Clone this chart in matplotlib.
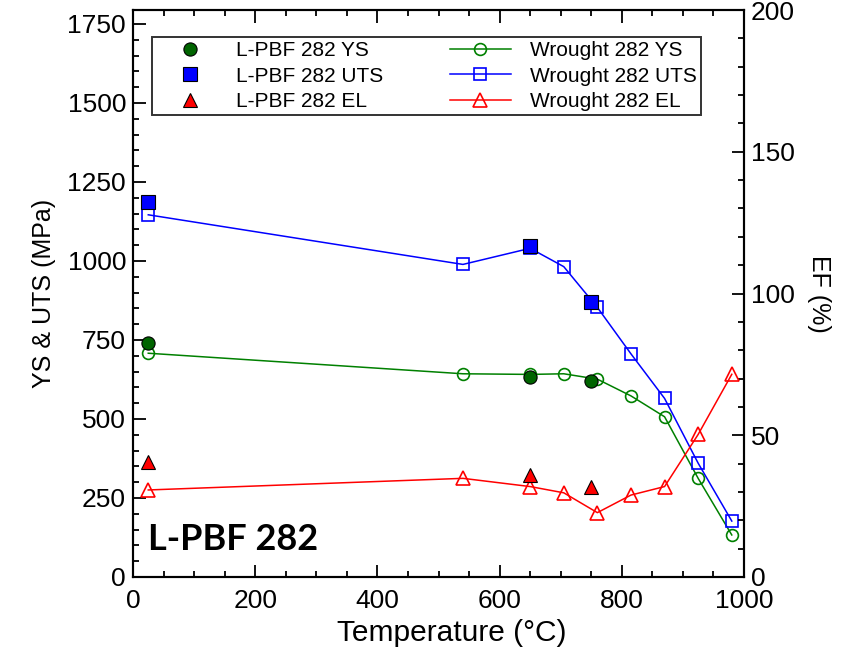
import matplotlib.pyplot as plt
from matplotlib.ticker import MultipleLocator
from matplotlib.legend_handler import HandlerLine2D

plt.rcParams['font.family'] = ['Liberation Sans', 'DejaVu Sans']

# --- datos ---
temp_lpbf = [25, 650, 750]
ys_lpbf = [741, 632, 620]
uts_lpbf = [1188, 1047, 869]
el_lpbf = [40.7, 36.0, 31.9]

temp_wr = [25, 540, 650, 705, 760, 815, 870, 925, 980]
ys_wr = [708, 643, 641, 643, 626, 573, 507, 312, 133]
uts_wr = [1146, 989, 1040, 982, 853, 706, 565, 360, 177]
el_wr = [30.7, 34.8, 31.9, 29.7, 22.7, 28.9, 31.9, 50.3, 71.5]

fig = plt.figure(figsize=(8.43, 6.49), dpi=100)
ax = fig.add_axes([133 / 843, 1 - 577 / 649, 611 / 843, 567 / 649])
ax2 = ax.twinx()

lw = 1.1
ms = 8.5
# Wrought (marcadores abiertos + línea)
l4, = ax.plot(temp_wr, ys_wr, '-o', color='green', lw=lw, ms=ms, mfc='none', mew=1.2, label='Wrought 282 YS')
l5, = ax.plot(temp_wr, uts_wr, '-s', color='blue', lw=lw, ms=ms, mfc='none', mew=1.2, label='Wrought 282 UTS')
l6, = ax2.plot(temp_wr, el_wr, '-^', color='red', lw=lw, ms=ms + 1, mfc='none', mew=1.2, label='Wrought 282 EL')

# L-PBF (solo marcadores rellenos)
l1, = ax.plot(temp_lpbf, ys_lpbf, 'o', color='#006400', mec='black', mew=0.8, ms=ms + 1, label='L-PBF 282 YS')
l2, = ax.plot(temp_lpbf, uts_lpbf, 's', color='blue', mec='black', mew=0.8, ms=ms + 1, label='L-PBF 282 UTS')
l3, = ax2.plot(temp_lpbf, el_lpbf, '^', color='red', mec='black', mew=0.8, ms=ms + 2, label='L-PBF 282 EL')

ax.set_xlim(0, 1000)
ax.set_ylim(0, 1794)
ax2.set_ylim(0, 200)

ax.xaxis.set_major_locator(MultipleLocator(200))
ax.xaxis.set_minor_locator(MultipleLocator(50))
ax.yaxis.set_major_locator(MultipleLocator(250))
ax.yaxis.set_minor_locator(MultipleLocator(50))
ax2.yaxis.set_major_locator(MultipleLocator(50))
ax2.yaxis.set_minor_locator(MultipleLocator(10))

ax.tick_params(which='both', direction='in', top=True, right=False, labelsize=19, width=1.3)
ax.tick_params(axis='x', pad=9)
ax.tick_params(axis='y', pad=5)
ax.tick_params(which='major', length=9)
ax.tick_params(which='minor', length=4.5)
ax2.tick_params(which='both', direction='in', labelsize=19, width=1.3, pad=5)
ax2.tick_params(which='major', length=9)
ax2.tick_params(which='minor', length=4.5)
for a in (ax, ax2):
    for s in a.spines.values():
        s.set_linewidth(1.5)

ax.set_xlabel('Temperature (°C)', fontsize=21.5, labelpad=4)
ax.xaxis.label.set_x(0.522)
ax.set_ylabel('YS & UTS (MPa)', fontsize=18, labelpad=8)
ax2.set_ylabel('EF (%)', fontsize=18, rotation=270, labelpad=26)

ax.text(0.024, 0.066, 'L-PBF 282', transform=ax.transAxes, fontsize=26,
        fontweight='bold', family=['Lato', 'DejaVu Sans'], va='center')

hm = {l1: HandlerLine2D(xpad=0.4), l2: HandlerLine2D(xpad=0.4), l3: HandlerLine2D(xpad=0.4)}
leg = ax2.legend(handles=[l1, l2, l3, l4, l5, l6], ncol=2, loc='upper left',
                 bbox_to_anchor=(0.031, 0.952), borderaxespad=0, fontsize=15,
                 frameon=True, fancybox=False, edgecolor='black', handlelength=2.9,
                 handletextpad=0.95, columnspacing=3.2, labelspacing=0.3,
                 borderpad=0.2, handler_map=hm)
leg.get_frame().set_linewidth(1.4)

plt.savefig('out.png', dpi=100)
